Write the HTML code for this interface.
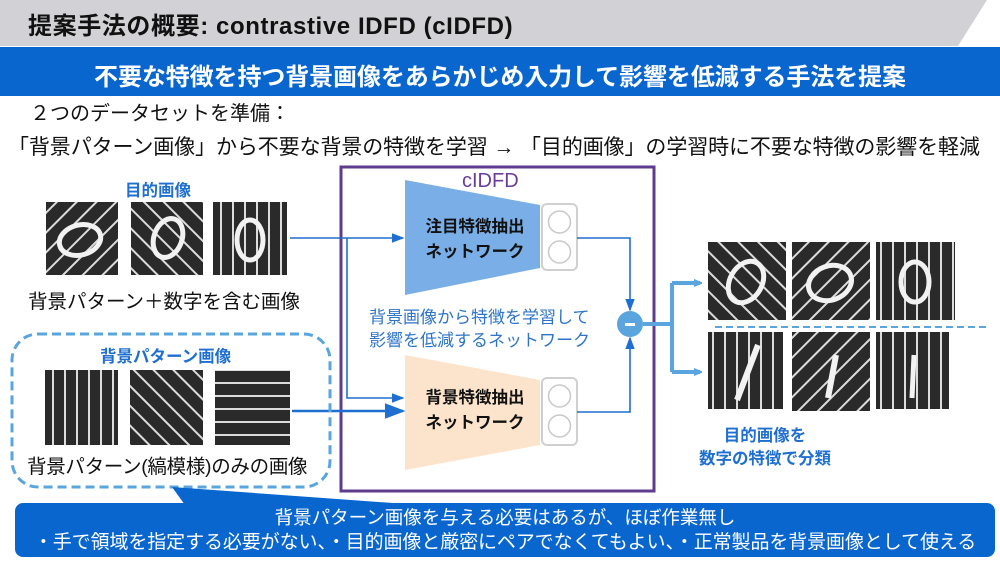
<!DOCTYPE html>
<html><head><meta charset="utf-8"><style>
body{margin:0;width:1000px;height:562px;position:relative;overflow:hidden;background:#fff;font-family:"Liberation Sans","Noto Sans CJK JP",sans-serif;}
.a{position:absolute;white-space:nowrap;}
.b{font-weight:bold;}
</style></head><body>
<svg class="a" style="left:0;top:0" width="1000" height="562">
<defs>
<pattern id="pd" width="14" height="14" patternUnits="userSpaceOnUse" patternTransform="rotate(45)"><rect width="14" height="14" fill="#2a2a2a"/><rect width="2" height="14" fill="#dcdcdc"/></pattern>
<pattern id="pd2" width="14" height="14" patternUnits="userSpaceOnUse" patternTransform="rotate(-45)"><rect width="14" height="14" fill="#2a2a2a"/><rect width="2" height="14" fill="#dcdcdc"/></pattern>
<pattern id="pv" width="12" height="12" patternUnits="userSpaceOnUse"><rect width="12" height="12" fill="#2a2a2a"/><rect x="4" width="2" height="12" fill="#dcdcdc"/></pattern>
<pattern id="ph" width="13" height="13" patternUnits="userSpaceOnUse"><rect width="13" height="13" fill="#2a2a2a"/><rect y="5" width="13" height="2" fill="#dcdcdc"/></pattern>
<marker id="ar" markerWidth="8" markerHeight="8" refX="7" refY="4" orient="auto"><path d="M0,1 L8,4 L0,7z" fill="#1f6fd0"/></marker>
<marker id="al" markerWidth="8" markerHeight="8" refX="6" refY="4" orient="auto" markerUnits="userSpaceOnUse"><path d="M0,0 L10,4 L0,8z" fill="#5aa5dd"/></marker>
</defs>
<rect x="0" y="0" width="1000" height="46" fill="#d2d2d6"/>
<polygon points="987,0 1000,0 1000,46 958,46" fill="#fff"/>
<rect x="0" y="47" width="1000" height="49" fill="#0a66cf"/>
<rect x="341" y="167" width="313" height="324" fill="none" stroke="#5e3b8c" stroke-width="3"/>
<polygon points="405,180 540,205 540,268 405,295" fill="#7aaee6"/>
<polygon points="405,355 540,380 540,445 405,470" fill="#fce4cc"/>
<rect x="542" y="204" width="35" height="66" rx="5" fill="#fff" stroke="#d0d0d0" stroke-width="2"/>
<circle cx="559.5" cy="222" r="11" fill="#fff" stroke="#c8c8c8" stroke-width="1.5"/>
<circle cx="559.5" cy="252" r="11" fill="#fff" stroke="#c8c8c8" stroke-width="1.5"/>
<rect x="542" y="378" width="35" height="67" rx="5" fill="#fff" stroke="#d0d0d0" stroke-width="2"/>
<circle cx="559.5" cy="396" r="11" fill="#fff" stroke="#c8c8c8" stroke-width="1.5"/>
<circle cx="559.5" cy="426" r="11" fill="#fff" stroke="#c8c8c8" stroke-width="1.5"/>
<g stroke="#1f6fd0" stroke-width="1.6" fill="none">
<path d="M290,238 H403" marker-end="url(#ar)"/>
<path d="M347,238 V398 H403" marker-end="url(#ar)"/>
<path d="M292,411 H403" stroke-width="2.6" marker-end="url(#ar)"/>
<path d="M577,238 H630 V310" marker-end="url(#ar)"/>
<path d="M577,412 H630 V338" marker-end="url(#ar)"/>
</g>
<circle cx="630" cy="324" r="13" fill="#5aa5dd"/>
<rect x="625" y="323" width="10" height="3" fill="#fff"/>
<g stroke="#5aa5dd" stroke-width="4" fill="none">
<path d="M643,324 H672"/>
<path d="M672,283 V372"/>
<path d="M672,283 H700" marker-end="url(#al)"/>
<path d="M672,372 H700" marker-end="url(#al)"/>
</g>
<path d="M715,327 H990" stroke="#5aa5dd" stroke-width="2" stroke-dasharray="7,4"/>
<rect x="46" y="202" width="72" height="73" fill="url(#pd)"/>
<ellipse cx="80" cy="240" rx="21" ry="15" fill="none" stroke="#f2f2f2" stroke-width="5" transform="rotate(-15 80 240)"/>
<rect x="131" y="202" width="72" height="73" fill="url(#pd2)"/>
<ellipse cx="168" cy="238" rx="14" ry="20" fill="none" stroke="#f2f2f2" stroke-width="5" transform="rotate(20 168 238)"/>
<rect x="213" y="202" width="74" height="73" fill="url(#pv)"/>
<ellipse cx="250" cy="240" rx="13" ry="20" fill="none" stroke="#f2f2f2" stroke-width="5"/>
<rect x="12" y="334" width="318" height="153" rx="26" fill="none" stroke="#5aa5dd" stroke-width="3" stroke-dasharray="9,5"/>
<rect x="45" y="370" width="73" height="75" fill="url(#pv)"/>
<rect x="130" y="370" width="73" height="75" fill="url(#pd2)"/>
<rect x="215" y="370" width="75" height="75" fill="url(#ph)"/>
<rect x="708" y="242" width="78" height="78" fill="url(#pd2)"/>
<ellipse cx="746" cy="282" rx="16" ry="22" fill="none" stroke="#f2f2f2" stroke-width="5" transform="rotate(30 746 282)"/>
<rect x="792" y="242" width="78" height="78" fill="url(#pd)"/>
<ellipse cx="830" cy="283" rx="22" ry="17" fill="none" stroke="#f2f2f2" stroke-width="5" transform="rotate(-20 830 283)"/>
<rect x="876" y="242" width="79" height="78" fill="url(#pv)"/>
<ellipse cx="915" cy="282" rx="14" ry="20" fill="none" stroke="#f2f2f2" stroke-width="5"/>
<rect x="708" y="332" width="75" height="77" fill="url(#pv)"/>
<path d="M758,345 L737,400" stroke="#f2f2f2" stroke-width="6"/>
<rect x="792" y="332" width="78" height="79" fill="url(#pd)"/>
<path d="M836,355 L828,398" stroke="#f2f2f2" stroke-width="6"/>
<rect x="876" y="332" width="73" height="77" fill="url(#pv)"/>
<path d="M914,355 L912,398" stroke="#f2f2f2" stroke-width="5"/>
<polygon points="172,487 185,505 420,505" fill="#0a66cf"/>
<rect x="15" y="503" width="980" height="54" rx="8" fill="#0a66cf"/>
</svg>
<div class="a b" style="left:28px;top:6px;font-size:24px;color:#111;letter-spacing:0.6px;">提案手法の概要: contrastive IDFD (cIDFD)</div>
<div class="a b" style="left:0;width:1000px;text-align:center;top:57px;font-size:24px;color:#fff;letter-spacing:-0.1px;">不要な特徴を持つ背景画像をあらかじめ入力して影響を低減する手法を提案</div>
<div class="a" style="left:30px;top:97px;font-size:20px;color:#111;">２つのデータセットを準備：</div>
<div class="a" style="left:8px;top:131px;font-size:21px;color:#111;letter-spacing:-0.1px;">「背景パターン画像」から不要な背景の特徴を学習 → 「目的画像」の学習時に不要な特徴の影響を軽減</div>
<div class="a" style="left:462px;top:170px;font-size:20px;color:#6a3d9a;">cIDFD</div>
<div class="a b" style="left:405px;width:140px;text-align:center;top:215px;font-size:16.5px;line-height:25px;color:#111;">注目特徴抽出<br>ネットワーク</div>
<div class="a b" style="left:405px;width:140px;text-align:center;top:386px;font-size:16.5px;line-height:25px;color:#111;">背景特徴抽出<br>ネットワーク</div>
<div class="a" style="left:369px;top:306px;font-size:17px;line-height:23px;color:#2e75c8;">背景画像から特徴を学習して<br>影響を低減するネットワーク</div>
<div class="a b" style="left:125px;top:177px;font-size:16.5px;color:#1f6fd0;">目的画像</div>
<div class="a" style="left:28px;top:285px;font-size:19.5px;color:#111;">背景パターン＋数字を含む画像</div>
<div class="a b" style="left:100px;top:343px;font-size:16.5px;color:#1f6fd0;">背景パターン画像</div>
<div class="a" style="left:27px;top:450px;font-size:19.5px;color:#111;letter-spacing:-0.3px;">背景パターン(縞模様)のみの画像</div>
<div class="a b" style="left:665px;width:200px;text-align:center;top:425px;font-size:16.5px;line-height:23px;color:#1f6fd0;">目的画像を<br>数字の特徴で分類</div>
<div class="a" style="left:15px;width:980px;text-align:center;top:505px;font-size:18.5px;line-height:25px;color:#fff;">背景パターン画像を与える必要はあるが、ほぼ作業無し</div>
<div class="a" style="left:15px;width:980px;text-align:center;top:530px;font-size:19px;line-height:25px;color:#fff;letter-spacing:-0.1px;">・手で領域を指定する必要がない、・目的画像と厳密にペアでなくてもよい、・正常製品を背景画像として使える</div>
</body></html>
